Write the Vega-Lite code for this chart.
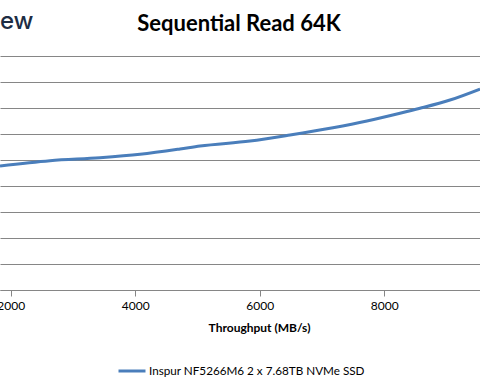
{
  "$schema": "https://vega.github.io/schema/vega-lite/v6.json",
  "width": 480,
  "height": 234,
  "autosize": {"type": "none"},
  "padding": {"top": 56, "left": 0, "right": 0, "bottom": 95},
  "background": "white",
  "title": {
    "text": "Sequential Read 64K",
    "font": "Lato",
    "fontSize": 22,
    "fontWeight": "bold",
    "color": "#000000",
    "anchor": "middle",
    "frame": "group",
    "dx": -1,
    "offset": -27
  },
  "data": {
    "values": [
      {"throughput": 1828, "latency": 0.2385, "series": "Inspur NF5266M6 2 x 7.68TB NVMe SSD"},
      {"throughput": 2631, "latency": 0.2487, "series": "Inspur NF5266M6 2 x 7.68TB NVMe SSD"},
      {"throughput": 3434, "latency": 0.2544, "series": "Inspur NF5266M6 2 x 7.68TB NVMe SSD"},
      {"throughput": 4077, "latency": 0.2610, "series": "Inspur NF5266M6 2 x 7.68TB NVMe SSD"},
      {"throughput": 4720, "latency": 0.2712, "series": "Inspur NF5266M6 2 x 7.68TB NVMe SSD"},
      {"throughput": 5041, "latency": 0.2769, "series": "Inspur NF5266M6 2 x 7.68TB NVMe SSD"},
      {"throughput": 5844, "latency": 0.2865, "series": "Inspur NF5266M6 2 x 7.68TB NVMe SSD"},
      {"throughput": 6487, "latency": 0.2981, "series": "Inspur NF5266M6 2 x 7.68TB NVMe SSD"},
      {"throughput": 7177, "latency": 0.3121, "series": "Inspur NF5266M6 2 x 7.68TB NVMe SSD"},
      {"throughput": 7723, "latency": 0.3250, "series": "Inspur NF5266M6 2 x 7.68TB NVMe SSD"},
      {"throughput": 8254, "latency": 0.3398, "series": "Inspur NF5266M6 2 x 7.68TB NVMe SSD"},
      {"throughput": 8575, "latency": 0.3494, "series": "Inspur NF5266M6 2 x 7.68TB NVMe SSD"},
      {"throughput": 9057, "latency": 0.3654, "series": "Inspur NF5266M6 2 x 7.68TB NVMe SSD"},
      {"throughput": 9539, "latency": 0.3865, "series": "Inspur NF5266M6 2 x 7.68TB NVMe SSD"}
    ]
  },
  "mark": {"type": "line", "strokeWidth": 3, "interpolate": "monotone"},
  "encoding": {
    "x": {
      "field": "throughput",
      "type": "quantitative",
      "scale": {"domain": [1828, 9539], "nice": false, "zero": false},
      "axis": {
        "values": [2000, 4000, 6000, 8000],
        "grid": false,
        "format": "d",
        "title": "Throughput (MB/s)",
        "titleX": 259,
        "titleY": 32,
        "titleFont": "Lato",
        "titleFontSize": 12,
        "titleFontWeight": "bold",
        "titleColor": "#000000",
        "labelFont": "Lato",
        "labelFontSize": 12,
        "labelColor": "#000000",
        "labelPadding": 4,
        "domainColor": "#868686",
        "tickColor": "#868686",
        "tickSize": 6
      }
    },
    "y": {
      "field": "latency",
      "type": "quantitative",
      "scale": {"domain": [0, 0.45], "nice": false},
      "axis": {
        "values": [0, 0.05, 0.1, 0.15, 0.2, 0.25, 0.3, 0.35, 0.4, 0.45],
        "labels": false,
        "ticks": false,
        "domain": false,
        "gridColor": "#868686",
        "gridWidth": 1,
        "gridOpacity": 1,
        "title": "ew",
        "titleAngle": 0,
        "titleAlign": "right",
        "titleBaseline": "alphabetic",
        "titleX": 33,
        "titleY": -28,
        "titleFont": "Inter",
        "titleFontSize": 24,
        "titleFontWeight": 500,
        "titleColor": "#1d2d44"
      }
    },
    "color": {
      "field": "series",
      "type": "nominal",
      "scale": {"range": ["#4a7ebb"]},
      "legend": {
        "title": null,
        "orient": "none",
        "legendX": 117,
        "legendY": 300,
        "symbolType": "stroke",
        "symbolStrokeWidth": 3,
        "symbolSize": 729,
        "labelOffset": 2,
        "labelFont": "Lato",
        "labelFontSize": 11.7,
        "labelColor": "#000000",
        "labelLimit": 400
      }
    }
  },
  "config": {"view": {"stroke": null}}
}
